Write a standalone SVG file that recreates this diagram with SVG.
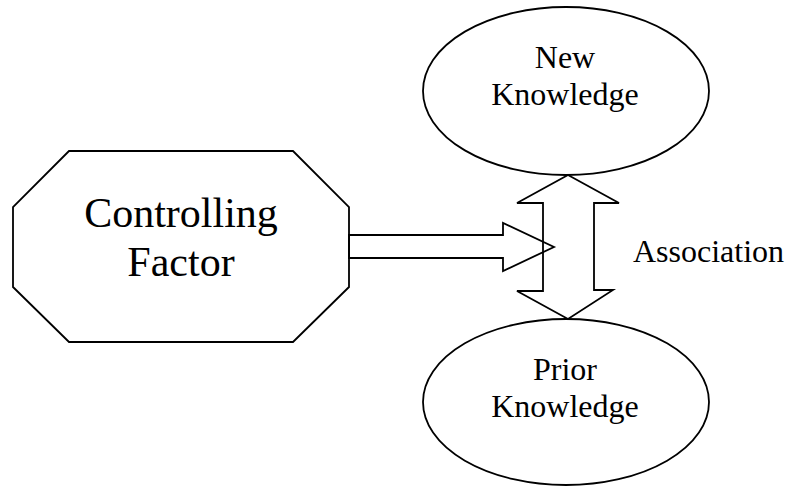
<svg xmlns="http://www.w3.org/2000/svg" width="785" height="486" viewBox="0 0 785 486">
<style>
.shape{fill:none;stroke:#000;stroke-width:1.8;stroke-linejoin:miter}
.t{font-family:'Liberation Serif','Times New Roman',serif;fill:#000;text-anchor:middle}
.m{font-size:32px}
.b{font-size:42px}
</style>
<rect width="785" height="486" fill="#fff"/>
<g id="controlling-factor">
<polygon class="shape" points="69,151 293,151 349,207 349,287 293,342 69,342 13,287 13,207"/>
<text class="t b" x="181" y="227">Controlling</text>
<text class="t b" x="181" y="276">Factor</text>
</g>
<g id="new-knowledge">
<ellipse class="shape" cx="566" cy="91" rx="143" ry="84"/>
<text class="t m" x="565" y="68">New</text>
<text class="t m" x="565" y="105">Knowledge</text>
</g>
<g id="prior-knowledge">
<ellipse class="shape" cx="566" cy="402" rx="143" ry="83"/>
<text class="t m" x="565" y="380">Prior</text>
<text class="t m" x="565" y="417">Knowledge</text>
</g>
<g id="connectors">
<polygon class="shape" points="349,235 503,235 503,223 554,247 503,271 503,258 349,258"/>
<polygon class="shape" points="568,175 619,203 594,203 594,290 613,290 568,319 517,291 543,291 543,203 517,203"/>
<text class="t m" x="633" y="262" style="text-anchor:start">Association</text>
</g>
</svg>
